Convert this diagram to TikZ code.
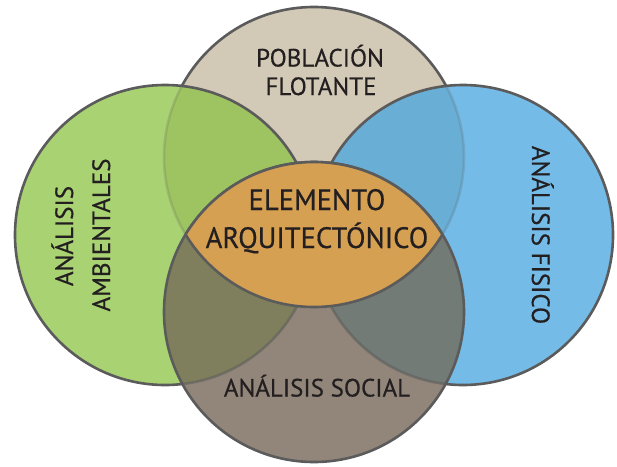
\documentclass[tikz,border=0pt]{standalone}
\usepackage{fontspec}
\setmainfont[FakeBold=0.5]{PT Sans}
\newfontfamily\narrowfont[FakeStretch=0.97, FakeBold=0.5]{PT Sans}
\definecolor{greenC}{HTML}{A9D273}
\definecolor{beigeC}{HTML}{D3C9B7}
\definecolor{blueC}{HTML}{74BBE7}
\definecolor{taupeC}{HTML}{918679}
\definecolor{greenTop}{HTML}{9DC461}
\definecolor{blueTop}{HTML}{69AED5}
\definecolor{greenBot}{HTML}{7F7F5D}
\definecolor{blueBot}{HTML}{727B75}
\definecolor{orangeC}{HTML}{D6A052}
\definecolor{lineC}{HTML}{5B5B5B}
\definecolor{textC}{HTML}{231F20}
\begin{document}
\begin{tikzpicture}[x=1pt, y=-1pt,
    ring/.style={line width=2.6pt, draw=lineC},
    faint/.style={line width=2.6pt, draw=lineC, draw opacity=0.2},
    every node/.style={text=textC, inner sep=0pt, anchor=base},
    big/.style={font=\narrowfont\fontsize{29.5}{31}\selectfont},
    small/.style={font=\fontsize{25}{28}\selectfont}]
\useasboundingbox (0,0) rectangle (617,466);
\def\rad{150pt}
\coordinate (T) at (314,157);
\coordinate (B) at (314,312);
\coordinate (L) at (165,235);
\coordinate (R) at (463,235);
\fill[beigeC] (T) circle[radius=\rad];
\draw[ring] (T) circle[radius=\rad];
\foreach \c/\base/\mix in {L/greenC/greenTop, R/blueC/blueTop} {
  \fill[\base] (\c) circle[radius=\rad];
  \begin{scope}
    \clip (\c) circle[radius=\rad];
    \fill[\mix] (T) circle[radius=\rad];
    \draw[faint] (T) circle[radius=\rad];
  \end{scope}
  \draw[ring] (\c) circle[radius=\rad];
}
\fill[taupeC] (B) circle[radius=\rad];
\foreach \c/\mix in {L/greenBot, R/blueBot} {
  \begin{scope}
    \clip (B) circle[radius=\rad];
    \fill[\mix] (\c) circle[radius=\rad];
    \draw[ring, draw opacity=0.55] (\c) circle[radius=\rad];
  \end{scope}
}
\draw[ring] (B) circle[radius=\rad];
\begin{scope}
  \clip (T) circle[radius=\rad];
  \fill[orangeC] (B) circle[radius=\rad];
  \draw[ring] (B) circle[radius=\rad];
\end{scope}
\begin{scope}
  \clip (B) circle[radius=\rad];
  \draw[ring] (T) circle[radius=\rad];
\end{scope}
\node[small] (pob1) at (320,66.5) {POBLACIÓN};
\node[small] (pob2) at (321,95) {FLOTANTE};
\node[big] (ele1) at (317,210) {ELEMENTO};
\node[big] (ele2) at (317,248) {ARQUITECTÓNICO};
\node[small, rotate=90] (amb1) at (73,236) {ANÁLISIS};
\node[small, rotate=90] (amb2) at (110,235) {AMBIENTALES};
\node[small, rotate=-90] (fis) at (532,235) {ANÁLISIS FISICO};
\node[small] (soc) at (317,396.5) {ANÁLISIS SOCIAL};
\end{tikzpicture}
\end{document}
